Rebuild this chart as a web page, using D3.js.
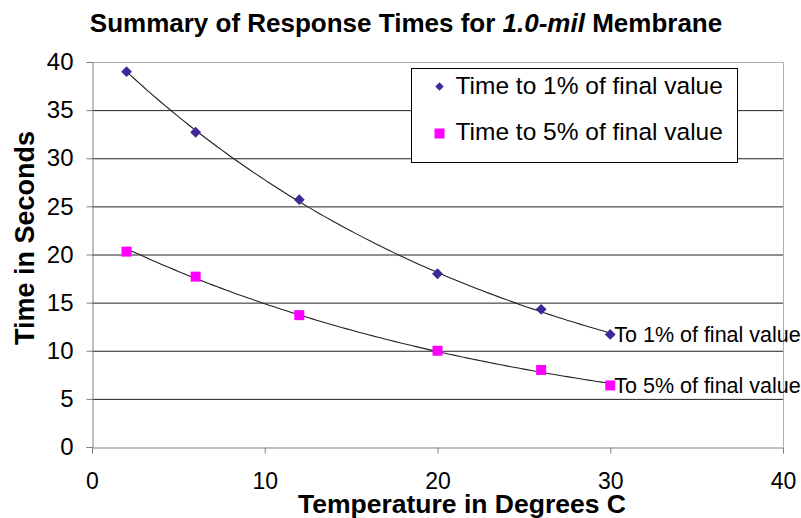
<!DOCTYPE html>
<html>
<head>
<meta charset="utf-8">
<script src="https://cdn.jsdelivr.net/npm/d3@7"></script>
<style>
  body { margin: 0; background: #fff; }
  svg { font-family: "Liberation Sans", Arial, sans-serif; }
</style>
</head>
<body>
<div id="chart"></div>
<script>
// data
var temps = [2, 6, 12, 20, 26, 30];
var time1pct = [39, 32.7, 25.7, 18, 14.3, 11.7];
var time5pct = [20.3, 17.7, 13.7, 10, 8, 6.4];
var xTicks = [0, 10, 20, 30, 40];
var yTicks = [0, 5, 10, 15, 20, 25, 30, 35, 40];
var seriesNames = ['Time to 1% of final value', 'Time to 5% of final value'];
var endLabels = ['To 1% of final value', 'To 5% of final value'];

var W = 801, H = 518;
var plot = {left: 92, right: 783, top: 62, bottom: 447};

var svg = d3.select('#chart').append('svg')
    .attr('width', W)
    .attr('height', H);

var x = d3.scaleLinear().domain([0, 40]).range([plot.left, plot.right]);
var y = d3.scaleLinear().domain([0, 40]).range([plot.bottom, plot.top]);

// gridlines
svg.append('g')
    .selectAll('line')
    .data(yTicks.filter(function(d) { return d > 0 && d < 40; }))
    .enter()
    .append('line')
    .attr('x1', plot.left).attr('x2', plot.right)
    .attr('y1', function(d) { return y(d) + 0.5; })
    .attr('y2', function(d) { return y(d) + 0.5; })
    .attr('stroke', '#222')
    .attr('stroke-width', 1);

// plot border top / right
svg.append('path')
    .attr('d', 'M' + plot.left + ',' + (plot.top + 0.5) + 'H' + (plot.right + 0.5) + 'V' + plot.bottom)
    .attr('fill', 'none')
    .attr('stroke', '#b0b0b0');

// axes
var xAxis = svg.append('g')
    .attr('transform', 'translate(0,' + (plot.bottom + 0.5) + ')')
    .call(d3.axisBottom(x).tickValues(xTicks).tickSize(6).tickPadding(19));
var yAxis = svg.append('g')
    .attr('transform', 'translate(' + (plot.left + 0.5) + ',0)')
    .call(d3.axisLeft(y).tickValues(yTicks).tickSize(6).tickPadding(13));

[xAxis, yAxis].forEach(function(a) {
    a.select('.domain').attr('stroke', '#808080');
    a.selectAll('.tick line').attr('stroke', '#808080');
    a.selectAll('.tick text')
        .attr('fill', '#000')
        .style('font-size', a === xAxis ? '23px' : '24px')
        .style('font-family', '"Liberation Sans", Arial, sans-serif');
});

// exponential trendline like Excel: y = a * exp(b * x)
function expFit(xs, ys) {
    var n = xs.length;
    var ly = ys.map(Math.log);
    var mx = d3.mean(xs), my = d3.mean(ly);
    var sxy = 0, sxx = 0;
    for (var i = 0; i < n; i++) {
        sxy += (xs[i] - mx) * (ly[i] - my);
        sxx += (xs[i] - mx) * (xs[i] - mx);
    }
    var b = sxy / sxx;
    var a = Math.exp(my - b * mx);
    return function(t) { return a * Math.exp(b * t); };
}

var line = d3.line()
    .x(function(d) { return x(d[0]); })
    .y(function(d) { return y(d[1]); });

[time1pct, time5pct].forEach(function(vals) {
    var f = expFit(temps, vals);
    var pts = d3.range(temps[0], temps[temps.length - 1] + 0.001, 0.25).map(function(t) { return [t, f(t)]; });
    svg.append('path')
        .attr('d', line(pts))
        .attr('fill', 'none')
        .attr('stroke', '#222')
        .attr('stroke-width', 1.1);
});

var diamond = d3.symbol().type(d3.symbolDiamond2).size(75);
var purple = '#40289a', magenta = '#ff00ff';

svg.append('g').selectAll('path')
    .data(temps)
    .enter()
    .append('path')
    .attr('d', diamond)
    .attr('transform', function(d, i) { return 'translate(' + x(d) + ',' + y(time1pct[i]) + ')'; })
    .attr('fill', purple);

svg.append('g').selectAll('rect')
    .data(temps)
    .enter()
    .append('rect')
    .attr('x', function(d) { return x(d) - 5; })
    .attr('y', function(d, i) { return y(time5pct[i]) - 5; })
    .attr('width', 10).attr('height', 10)
    .attr('fill', magenta);

// labels at last points
var last = temps.length - 1;
svg.append('text')
    .attr('x', x(temps[last]) + 4)
    .attr('y', y(time1pct[last]) + 8)
    .style('font-size', '21.5px')
    .text(endLabels[0]);
svg.append('text')
    .attr('x', x(temps[last]) + 4)
    .attr('y', y(time5pct[last]) + 8)
    .style('font-size', '21.5px')
    .text(endLabels[1]);

// legend
var lg = svg.append('g').attr('transform', 'translate(411.5,68.5)');
lg.append('rect')
    .attr('width', 326).attr('height', 94)
    .attr('fill', '#fff')
    .attr('stroke', '#000');
lg.append('path')
    .attr('d', d3.symbol().type(d3.symbolDiamond2).size(45))
    .attr('transform', 'translate(28,18)')
    .attr('fill', purple);
lg.append('rect')
    .attr('x', 23).attr('y', 60).attr('width', 10).attr('height', 10)
    .attr('fill', magenta);
lg.selectAll('text.leg')
    .data(seriesNames)
    .enter()
    .append('text')
    .attr('class', 'leg')
    .attr('x', 44)
    .attr('y', function(d, i) { return 25 + i * 46; })
    .style('font-size', '24.5px')
    .text(function(d) { return d; });

// title
var title = svg.append('text')
    .attr('x', 406)
    .attr('y', 32)
    .attr('text-anchor', 'middle')
    .style('font-size', '26px')
    .style('font-weight', 'bold');
title.append('tspan').text('Summary of Response Times for ');
title.append('tspan').style('font-style', 'italic').text('1.0-mil');
title.append('tspan').text(' Membrane');

// axis titles
svg.append('text')
    .attr('x', 462)
    .attr('y', 513)
    .attr('text-anchor', 'middle')
    .style('font-size', '26.5px')
    .style('font-weight', 'bold')
    .text('Temperature in Degrees C');

svg.append('text')
    .attr('transform', 'translate(34,238) rotate(-90)')
    .attr('text-anchor', 'middle')
    .style('font-size', '27px')
    .style('font-weight', 'bold')
    .text('Time in Seconds');
</script>
</body>
</html>
